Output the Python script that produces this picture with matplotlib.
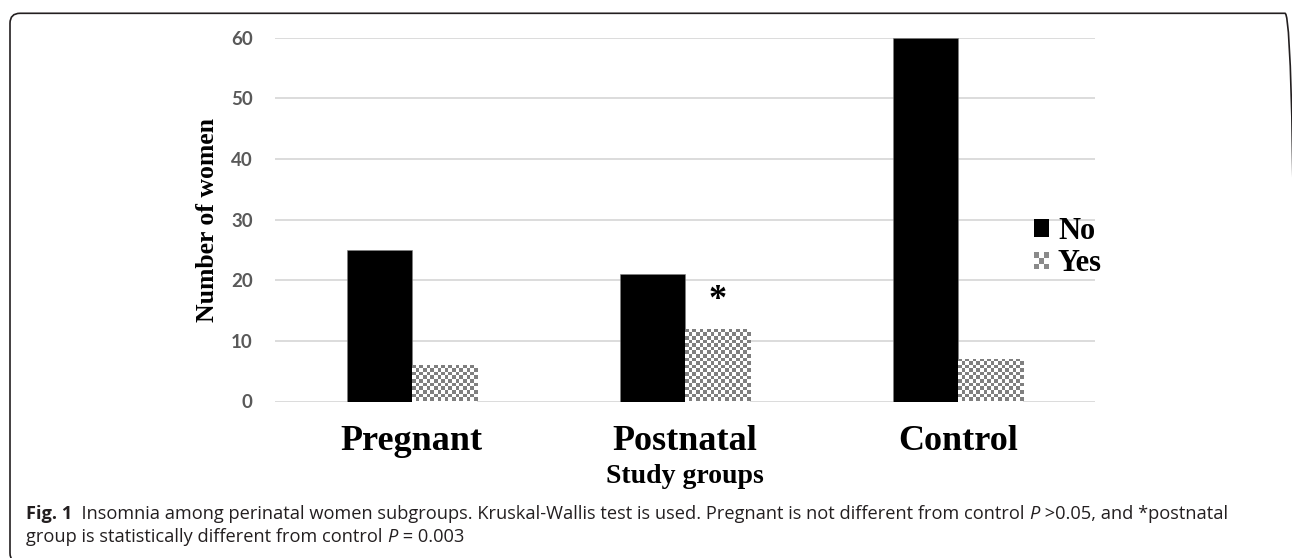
import numpy as np
import matplotlib.pyplot as plt
from matplotlib.patches import Patch, Rectangle, FancyBboxPatch
from matplotlib.legend_handler import HandlerBase

groups = ['Pregnant', 'Postnatal', 'Control']
no_vals = [25, 21, 60]
yes_vals = [6, 12, 7]
yticks = [0, 10, 20, 30, 40, 50, 60]
series = ['No', 'Yes']

serif = 'Liberation Serif'
W, H = 1292, 558


class HandlerChecker(HandlerBase):
    # small grey checkerboard square for the "Yes" legend entry
    def create_artists(self, legend, orig, xd, yd, width, height, fontsize, trans):
        n = 3
        s, t = width / n, height / n
        arts = []
        for i in range(n):
            for j in range(n):
                if (i + j) % 2 == 0:
                    arts.append(Rectangle((-xd + i * s, -yd + j * t), s, t,
                                          facecolor='#8a8a8a', lw=0, transform=trans))
        return arts


fig = plt.figure(figsize=(W / 100, H / 100), dpi=100)
ax = fig.add_axes([275 / W, 1 - 401.5 / H, 820 / W, 363.8 / H])

x = np.arange(len(groups))
w = 0.238
ax.bar(x - w / 2, no_vals, w, color='black', edgecolor='#808080', linewidth=0.4, zorder=3)
yes_bars = ax.bar(x + w / 2, yes_vals, w, color='white', linewidth=0, zorder=3)

# checkerboard fill clipped to each "Yes" bar
cb = np.indices((101, 228)).sum(axis=0) % 2
img = np.where(cb[..., None] == 1, [0.5, 0.5, 0.5], [1.0, 1.0, 1.0])
for b in yes_bars:
    im = ax.imshow(img, extent=(0, 1, 0, 1), transform=ax.transAxes,
                   interpolation='nearest', aspect='auto', zorder=4)
    im.set_clip_path(b)

ax.set_xlim(-0.5, 2.5)
ax.set_ylim(0, 60)
ax.set_yticks(yticks)
ax.yaxis.grid(True, color='#d9d9d9', lw=1.3)
ax.set_axisbelow(True)
for s in ax.spines.values():
    s.set_visible(False)
ax.tick_params(length=0)
ax.tick_params(axis='y', pad=16)
ax.tick_params(axis='x', pad=17)
for lbl in ax.get_yticklabels():
    lbl.set_fontfamily('Lato')
    lbl.set_fontweight('bold')
    lbl.set_fontsize(13.5)
    lbl.set_color('#595959')
ax.set_xticks(x, groups, fontfamily=serif, fontweight='bold', fontsize=26)

ax.annotate('*', (x[1] + w / 2, yes_vals[1]), xytext=(0, 20), textcoords='offset points',
            ha='center', va='center', fontsize=26, fontweight='bold', family=serif)

handles = [Patch(facecolor='black'), Patch(facecolor='white')]
ax.legend(handles, series, loc='center left', bbox_to_anchor=(0.925, 0.423),
          frameon=False, prop=dict(family=serif, weight='bold', size=22),
          handlelength=0.5, handleheight=0.5, handletextpad=0.3,
          labelspacing=0.12, borderpad=0, borderaxespad=0,
          handler_map={handles[1]: HandlerChecker()})

fig.text(208 / W, 1 - 219.6 / H, 'Number of women', rotation=90, ha='center', va='center',
         family=serif, weight='bold', fontsize=18.5)
fig.text(685 / W, 1 - 483 / H, 'Study groups', ha='center', va='baseline',
         family=serif, weight='bold', fontsize=20)

# caption
cap = dict(color='#231f20', fontsize=13.15, family='Open Sans')
t = fig.text(26 / W, 1 - 519 / H, 'Fig. 1', weight='bold', va='baseline', **cap)
for txt, style in [('  Insomnia among perinatal women subgroups. Kruskal-Wallis test is used. '
                    'Pregnant is not different from control ', 'normal'),
                   ('P', 'italic'), (' >0.05, and *postnatal', 'normal')]:
    t = ax.annotate(txt, xy=(1, 0), xycoords=t, ha='left', va='bottom',
                    style=style, annotation_clip=False, **cap)
t = fig.text(26 / W, 1 - 542 / H, 'group is statistically different from control ',
             va='baseline', **cap)
for txt, style in [('P', 'italic'), (' = 0.003', 'normal')]:
    t = ax.annotate(txt, xy=(1, 0), xycoords=t, ha='left', va='bottom',
                    style=style, annotation_clip=False, **cap)

# rounded frame, only top/left visible
frame = FancyBboxPatch((0.10, -0.05), 12.85, 5.58 - 0.133 + 0.05,
                       boxstyle='round,pad=0,rounding_size=0.1',
                       transform=fig.dpi_scale_trans, fill=False,
                       ec='#231f20', lw=1.2, clip_on=False)
fig.add_artist(frame)

fig.savefig('out.png', dpi=100)
